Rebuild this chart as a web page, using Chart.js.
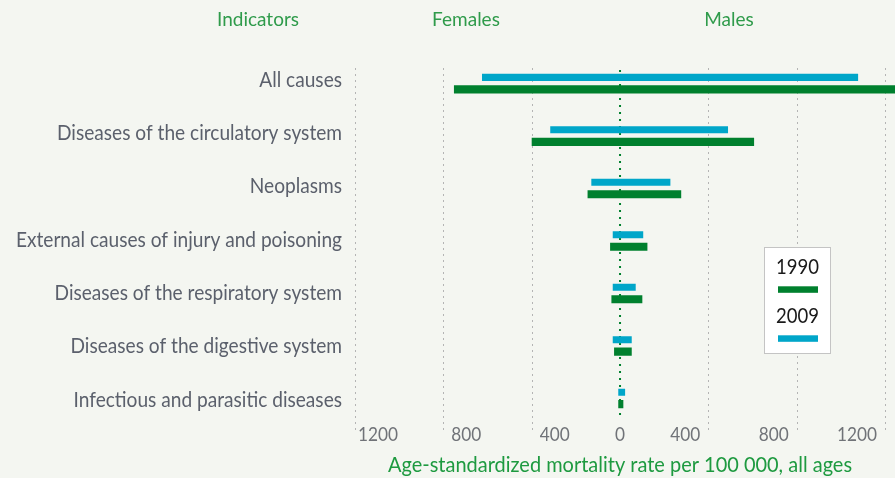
<!DOCTYPE html>
<html><head><meta charset="utf-8">
<script src="https://cdn.jsdelivr.net/npm/chart.js@4.4.1/dist/chart.umd.min.js"></script>
<style>html,body{margin:0;padding:0;background:#f4f6f1;} #wrap{width:895px;height:478px;position:relative;}</style>
</head><body><div id="wrap"><canvas id="c" width="895" height="478"></canvas></div>
<script>
// ---- data ----
const categories = [
  'All causes',
  'Diseases of the circulatory system',
  'Neoplasms',
  'External causes of injury and poisoning',
  'Diseases of the respiratory system',
  'Diseases of the digestive system',
  'Infectious and parasitic diseases'
];
const yearLabels = ['2009', '1990'];
const females2009 = [625, 316, 130, 33, 33, 33, 8];
const males2009   = [1078, 489, 228, 105, 71, 53, 23];
const females1990 = [752, 400, 147, 45, 39, 27, 8];
const males1990   = [1300, 607, 277, 124, 101, 53, 15];
const tickValues = [-1200, -800, -400, 0, 400, 800, 1200];
const headers = ['Indicators', 'Females', 'Males'];
const axisTitle = 'Age-standardized mortality rate per 100 000, all ages';

// ---- styles ----
const CYAN = '#00a6c9', GREEN = '#00802e';
const HEAD_GREEN = '#2f9b4b';
const FAM = 'Lato';
const mctx = document.createElement('canvas').getContext('2d');
function widthAt(text, size){ mctx.font = size + 'px "' + FAM + '"'; return mctx.measureText(text).width; }
// horizontal condensing factors, chosen so reference strings get their reference width
const LABEL_SIZE = 21, HEAD_SIZE = 20, TICK_SIZE = 20, TITLE_SIZE = 21, LEG_SIZE = 22;
const labelSX = 285 / widthAt('Diseases of the circulatory system', LABEL_SIZE);
const headSX = 82 / widthAt('Indicators', HEAD_SIZE);
const tickSX = 40 / widthAt('1200', TICK_SIZE);
const titleSX = 464 / widthAt(axisTitle, TITLE_SIZE);
const legSX = 43 / widthAt('1990', LEG_SIZE);

function condText(ctx, text, x, y, align, size, sx, color) {
  ctx.save();
  ctx.font = size + 'px "' + FAM + '"';
  ctx.fillStyle = color;
  ctx.textBaseline = 'alphabetic';
  ctx.textAlign = align;
  ctx.translate(x, y);
  ctx.scale(sx, 1);
  ctx.fillText(text, 0, 0);
  ctx.restore();
}

const floating = (f, m) => f.map((v, i) => [-v, m[i]]);

const decor = {
  id: 'decor',
  beforeDatasetsDraw(chart) {
    const ctx = chart.ctx, x = chart.scales.x;
    ctx.save();
    // dotted vertical grid lines
    ctx.strokeStyle = '#b4b4b4'; ctx.lineWidth = 1; ctx.setLineDash([2, 4]);
    tickValues.forEach(v => {
      if (v === 0) return;
      const px = Math.round(x.getPixelForValue(v)) + 0.5;
      ctx.beginPath(); ctx.moveTo(px, 68); ctx.lineTo(px, 433); ctx.stroke();
    });
    // zero line
    const x0 = x.getPixelForValue(0);
    ctx.strokeStyle = GREEN; ctx.lineWidth = 2; ctx.setLineDash([2, 5]);
    ctx.beginPath(); ctx.moveTo(x0, 70); ctx.lineTo(x0, 417); ctx.stroke();
    ctx.restore();
  },
  afterDraw(chart) {
    const ctx = chart.ctx, x = chart.scales.x, y = chart.scales.y;
    // category labels
    const y0 = y.getPixelForValue(0);
    categories.forEach((c, i) => {
      condText(ctx, c, 342, y0 + 3.4 + i * 53.33, 'right', LABEL_SIZE, labelSX, '#5b606c');
    });
    // headers
    const hx = [258, 466, 729];
    headers.forEach((h, i) => condText(ctx, h, hx[i], 26, 'center', HEAD_SIZE, headSX, HEAD_GREEN));
    // tick labels
    tickValues.forEach(v => {
      const px = x.getPixelForValue(v);
      const t = String(Math.abs(v));
      if (v < 0) condText(ctx, t, px + 23, 441, 'center', TICK_SIZE, tickSX, '#707378');
      else if (v > 0) condText(ctx, t, px - 8, 441, 'right', TICK_SIZE, tickSX, '#707378');
      else condText(ctx, t, px, 441, 'center', TICK_SIZE, tickSX, '#707378');
    });
    // axis title
    condText(ctx, axisTitle, x.getPixelForValue(0), 472, 'center', TITLE_SIZE, titleSX, '#1e9a40');
    // legend
    ctx.save();
    ctx.fillStyle = '#ffffff'; ctx.fillRect(764.5, 247.5, 66, 106);
    ctx.strokeStyle = '#c4c4c4'; ctx.lineWidth = 1; ctx.strokeRect(764.5, 247.5, 66, 106);
    ctx.restore();
    const ds = chart.data.datasets.slice().reverse();
    ds.forEach((d, i) => {
      const base = 274.3 + i * 49;
      condText(ctx, d.label, 797.5, base, 'center', LEG_SIZE, legSX, '#1a1a1a');
      ctx.fillStyle = d.backgroundColor;
      ctx.fillRect(778, base + 12, 40, 6.5);
    });
  }
};

new Chart(document.getElementById('c'), {
  type: 'bar',
  data: {
    labels: categories,
    datasets: [
      { label: yearLabels[0], data: floating(females2009, males2009), backgroundColor: CYAN,
        borderWidth: 0, categoryPercentage: 0.457, barPercentage: 0.59 },
      { label: yearLabels[1], data: floating(females1990, males1990), backgroundColor: GREEN,
        borderWidth: 0, categoryPercentage: 0.457, barPercentage: 0.68 }
    ]
  },
  options: {
    indexAxis: 'y',
    responsive: false,
    animation: false,
    layout: { padding: { top: 57.1, left: 0, right: 0, bottom: 0 } },
    plugins: { legend: { display: false }, tooltip: { enabled: false } },
    scales: {
      x: {
        type: 'linear', min: -1200, max: 1245,
        afterBuildTicks: s => { s.ticks = tickValues.map(v => ({ value: v })); },
        afterFit: s => { s.height = 53.6; },
        ticks: { display: false },
        grid: { display: false },
        border: { display: false }
      },
      y: {
        type: 'category',
        afterFit: s => { s.width = 355; },
        grid: { display: false },
        border: { display: false },
        ticks: { display: false }
      }
    }
  },
  plugins: [decor]
});
</script></body></html>
